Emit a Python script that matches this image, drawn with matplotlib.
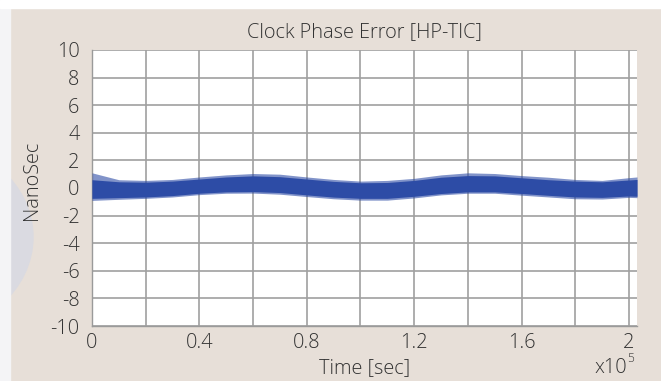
import matplotlib
matplotlib.use("Agg")
import matplotlib.pyplot as plt
from matplotlib.patches import Rectangle, Ellipse
import numpy as np

# ---- data ----
time_e5 = [0.0, 0.1, 0.2, 0.3, 0.4, 0.5, 0.6, 0.7, 0.8, 0.9, 1.0,
           1.1, 1.2, 1.3, 1.4, 1.5, 1.6, 1.7, 1.8, 1.9, 2.0, 2.03]
upper_env = [1.1, 0.6, 0.55, 0.62, 0.8, 0.95, 1.05, 1.0, 0.8, 0.62, 0.5,
             0.55, 0.7, 0.95, 1.1, 1.05, 0.9, 0.78, 0.62, 0.55, 0.75, 0.8]
lower_env = [-0.9, -0.82, -0.75, -0.65, -0.48, -0.38, -0.37, -0.45, -0.62, -0.78, -0.88,
             -0.88, -0.72, -0.5, -0.38, -0.38, -0.52, -0.65, -0.78, -0.8, -0.68, -0.7]
upper_core = [0.6, 0.45, 0.42, 0.5, 0.65, 0.8, 0.88, 0.82, 0.65, 0.48, 0.38,
              0.4, 0.55, 0.78, 0.9, 0.88, 0.74, 0.6, 0.5, 0.45, 0.58, 0.62]
lower_core = [-0.75, -0.7, -0.65, -0.55, -0.38, -0.28, -0.26, -0.33, -0.5, -0.66, -0.75,
              -0.75, -0.6, -0.4, -0.28, -0.28, -0.4, -0.53, -0.65, -0.68, -0.58, -0.6]

y_ticks = [-10, -8, -6, -4, -2, 0, 2, 4, 6, 8, 10]
x_grid = [0.0, 0.2, 0.4, 0.6, 0.8, 1.0, 1.2, 1.4, 1.6, 1.8, 2.0]
x_labels = ["0", "", "0.4", "", "0.8", "", "1.2", "", "1.6", "", "2"]

title = "Clock Phase Error [HP-TIC]"
xlabel = "Time [sec]"
ylabel = "NanoSec"

# ---- style ----
plt.rcParams['font.family'] = ['Open Sans', 'DejaVu Sans']
plt.rcParams['font.weight'] = 'light'
txt_color = '#333333'
bg = '#e7dfd8'
blue = '#2d4ca6'
fs = 14.3

W, H = 661, 381
fig = plt.figure(figsize=(W / 100, H / 100), dpi=100, facecolor=bg)

# decorations at left / top
fig.patches.append(Ellipse((-80 / W, 1 - 237 / H), 226 / W, 194 / H,
                           transform=fig.transFigure, color='#dadae1', zorder=0))
fig.patches.append(Rectangle((0, 0), 10 / W, 1, transform=fig.transFigure,
                             color='#f4f4f6', zorder=0))
fig.patches.append(Rectangle((0, 1 - 8 / H), 1, 8 / H, transform=fig.transFigure,
                             color='white', zorder=0))

L, R, T, B = 92, 637, 50, 326
ax = fig.add_axes([L / W, 1 - B / H, (R - L) / W, (B - T) / H])
ax.set_facecolor('white')

ax.fill_between(time_e5, lower_env, upper_env, color=blue, alpha=0.6, lw=0, zorder=3)
ax.fill_between(time_e5, lower_core, upper_core, color=blue, lw=0, zorder=4)

ax.set_xlim(0, 2.03)
ax.set_ylim(-10, 10)
ax.set_xticks(x_grid)
ax.set_xticklabels(x_labels)
ax.set_yticks(y_ticks)
ax.set_yticklabels([str(v) for v in y_ticks])
ax.tick_params(length=0, labelsize=fs, labelcolor=txt_color)
ax.tick_params(axis='y', pad=9)
ax.tick_params(axis='x', pad=5)
ax.grid(True, color='#a0a0a0', lw=1.2, zorder=1)
ax.set_axisbelow(True)
for s in ['top', 'right']:
    ax.spines[s].set_visible(False)
for s in ['left', 'bottom']:
    ax.spines[s].set_color('#9a9a9a')
    ax.spines[s].set_linewidth(1.0)

fig.text((L + R) / 2 / W, 1 - 32 / H, title, ha='center', va='center',
         fontsize=fs, color=txt_color)
fig.text((L + R) / 2 / W, 1 - 368 / H, xlabel, ha='center', va='center',
         fontsize=fs, color=txt_color)
fig.text(32 / W, 1 - 180 / H, ylabel, ha='center', va='center', rotation=90,
         fontsize=fs, color=txt_color)
fig.text(627 / W, 1 - 368 / H, "x10", ha='right', va='center',
         fontsize=fs, color=txt_color)
fig.text(627.5 / W, 1 - 359 / H, "5", ha='left', va='center',
         fontsize=fs * 0.6, color=txt_color)

fig.savefig("out.png", dpi=100, facecolor=bg)
